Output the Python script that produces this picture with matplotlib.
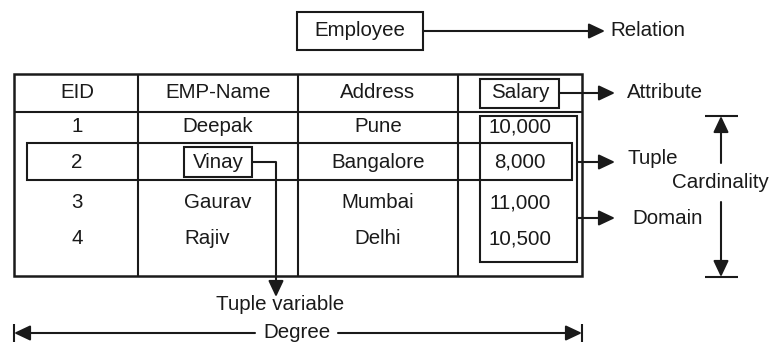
import matplotlib.pyplot as plt
from matplotlib.patches import Rectangle, FancyArrowPatch

plt.rcParams['font.family'] = ['Liberation Sans', 'DejaVu Sans']

# table content
headers = ['EID', 'EMP-Name', 'Address', 'Salary']
eids = ['1', '2', '3', '4']
names = ['Deepak', 'Vinay', 'Gaurav', 'Rajiv']
addresses = ['Pune', 'Bangalore', 'Mumbai', 'Delhi']
salaries = ['10,000', '8,000', '11,000', '10,500']
relation_name = 'Employee'
labels = ['Relation', 'Attribute', 'Tuple', 'Domain', 'Cardinality', 'Tuple variable', 'Degree']

# layout (pixels, y downwards)
col_edges = [14, 138, 298, 458, 582]
col_x = [77, 218, 378, 520]
head_y = 93
row_y = [127, 162, 203, 239]
fs = 14.8
lw = 1.5

fig = plt.figure(figsize=(7.72, 3.42), dpi=100)
ax = fig.add_axes([0, 0, 1, 1])
ax.set_xlim(0, 772)
ax.set_ylim(342, 0)
ax.axis('off')


def box(x0, y0, x1, y1, w=lw):
    ax.add_patch(Rectangle((x0, y0), x1 - x0, y1 - y0, fill=False, lw=w, ec='#1a1a1a'))


def line(xs, ys):
    ax.plot(xs, ys, color='#1a1a1a', lw=lw, solid_capstyle='butt')


def arrow(x0, y0, x1, y1):
    ax.add_patch(FancyArrowPatch((x0, y0), (x1, y1), arrowstyle='-|>,head_length=0.7,head_width=0.33',
                                 mutation_scale=14, lw=lw, color='#1a1a1a', shrinkA=0, shrinkB=0))


def txt(x, y, s, ha='center'):
    ax.text(x, y, s, ha=ha, va='center', fontsize=fs, color='#1a1a1a')


# relation
box(297, 12, 423, 50)
txt(360, 31, relation_name)
arrow(423, 31, 605, 31)
txt(610, 31, labels[0], ha='left')

# table grid
box(col_edges[0], 74, col_edges[-1], 276, w=1.8)
line([col_edges[0], col_edges[-1]], [112, 112])
for xe in col_edges[1:-1]:
    line([xe, xe], [74, 276])

for i, h in enumerate(headers):
    txt(col_x[i], head_y, h)
for i in range(len(eids)):
    txt(col_x[0], row_y[i], eids[i])
    txt(col_x[1] if i != 3 else 207, row_y[i], names[i])
    txt(col_x[2], row_y[i], addresses[i])
    txt(col_x[3], row_y[i], salaries[i])

# attribute
box(480, 79, 559, 108)
arrow(559, 93, 615, 93)
txt(627, 93, labels[1], ha='left')

# domain box
box(480, 116, 577, 262)
arrow(577, 218, 615, 218)
txt(632, 218, labels[3], ha='left')

# tuple box
box(27, 143, 572, 180)
arrow(577, 162, 615, 162)
txt(628, 158, labels[2], ha='left')

# tuple variable
box(184, 147, 252, 177)
line([252, 276], [162, 162])
arrow(276, 162, 276, 297)
txt(280, 305, labels[5])

# cardinality
line([705, 738], [116, 116])
arrow(721, 163, 721, 116)
txt(769, 183, labels[4], ha='right')
arrow(721, 202, 721, 277)
line([705, 738], [277, 277])

# degree
line([14, 14], [324, 342])
line([582, 582], [324, 342])
arrow(255, 333, 14, 333)
arrow(338, 333, 582, 333)
txt(297, 333, labels[6])

fig.savefig('out.png', dpi=100)
